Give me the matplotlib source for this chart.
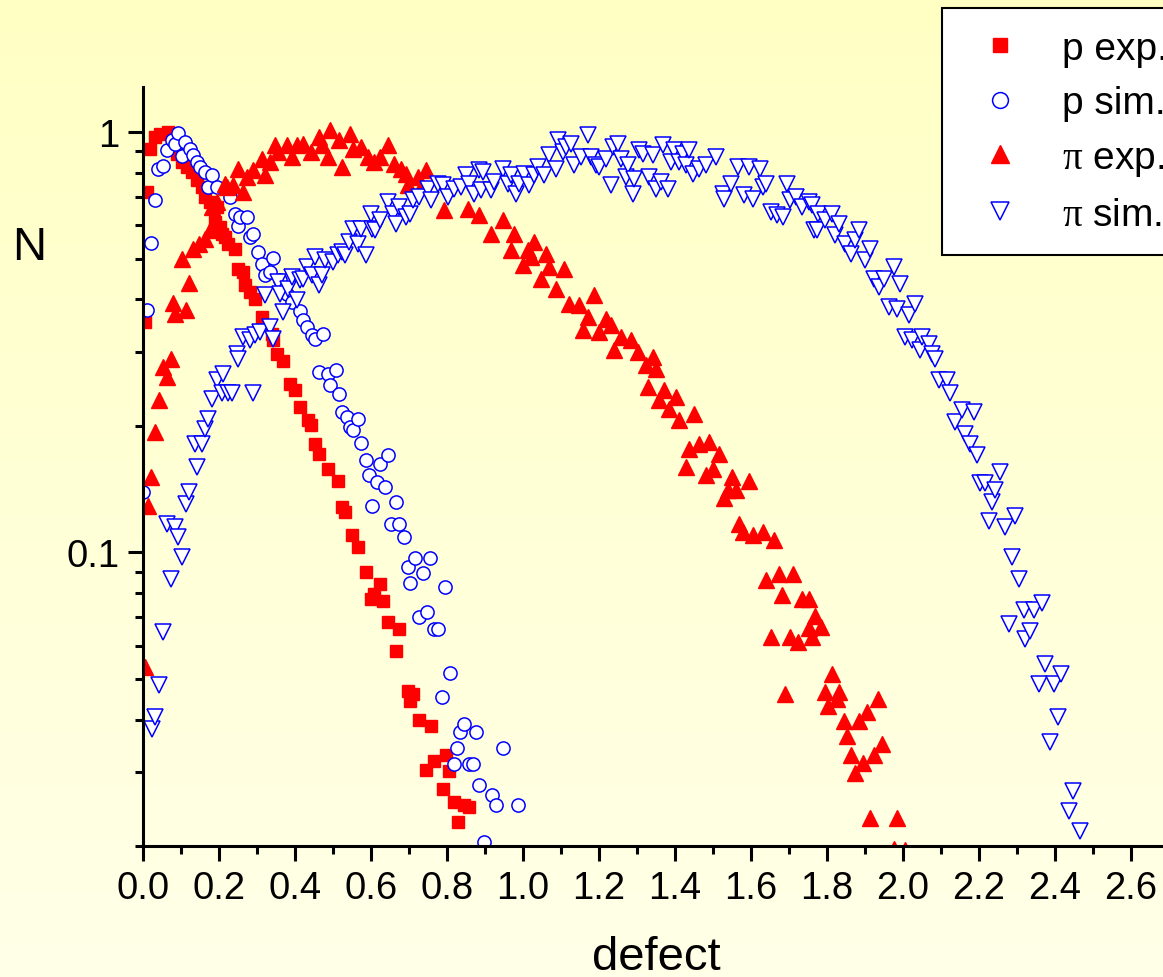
import numpy as np
import matplotlib
matplotlib.use("Agg")
import matplotlib.pyplot as plt
from matplotlib.colors import LinearSegmentedColormap
from matplotlib.ticker import MultipleLocator, LogLocator, NullFormatter, FormatStrFormatter

plt.rcParams['font.family'] = ['Liberation Sans', 'DejaVu Sans']
plt.rcParams['mathtext.fontset'] = 'custom'
plt.rcParams['mathtext.rm'] = 'Liberation Serif'
plt.rcParams['mathtext.it'] = 'Liberation Serif'

# p exp. (red squares)
p_exp_x = [0.005, 0.011, 0.018, 0.032, 0.045, 0.066, 0.090, 0.103, 0.116, 0.129,
           0.142, 0.156, 0.164, 0.177, 0.190, 0.195, 0.203, 0.208, 0.216, 0.224,
           0.243, 0.251, 0.264, 0.269, 0.282, 0.296, 0.314, 0.340, 0.343, 0.354,
           0.369, 0.388, 0.401, 0.414, 0.435, 0.441, 0.454, 0.462, 0.486, 0.512,
           0.525, 0.533, 0.551, 0.567, 0.586, 0.599, 0.607, 0.625, 0.633, 0.646,
           0.665, 0.673, 0.697, 0.704, 0.712, 0.726, 0.744, 0.757, 0.765, 0.789,
           0.797, 0.805, 0.818, 0.828, 0.844, 0.858]
p_exp_y = [0.353, 0.72, 0.911, 0.973, 0.989, 1.0, 0.887, 0.849, 0.826, 0.803,
           0.769, 0.740, 0.700, 0.681, 0.611, 0.663, 0.594, 0.572, 0.562, 0.541,
           0.526, 0.472, 0.464, 0.432, 0.416, 0.400, 0.363, 0.330, 0.320, 0.296,
           0.286, 0.251, 0.243, 0.222, 0.206, 0.201, 0.181, 0.171, 0.158, 0.148,
           0.128, 0.1245, 0.110, 0.103, 0.0896, 0.0773, 0.0794, 0.0839, 0.0764, 0.0681,
           0.0581, 0.0656, 0.0467, 0.0442, 0.0459, 0.040, 0.0304, 0.0385, 0.0318, 0.0273,
           0.0330, 0.0301, 0.0254, 0.0228, 0.0250, 0.0247]

# p sim. (blue open circles)
p_sim_x = [0.0, 0.011, 0.021, 0.032, 0.040, 0.053, 0.063, 0.077, 0.084, 0.092,
           0.103, 0.111, 0.124, 0.132, 0.142, 0.150, 0.164, 0.172, 0.182, 0.195,
           0.230, 0.243, 0.251, 0.256, 0.274, 0.282, 0.290, 0.303, 0.314, 0.322,
           0.335, 0.343, 0.361, 0.380, 0.393, 0.414, 0.422, 0.433, 0.446, 0.454,
           0.475, 0.462, 0.486, 0.493, 0.507, 0.515, 0.525, 0.538, 0.546, 0.554,
           0.565, 0.575, 0.586, 0.594, 0.604, 0.615, 0.625, 0.636, 0.646, 0.654,
           0.665, 0.675, 0.686, 0.697, 0.704, 0.715, 0.726, 0.736, 0.747, 0.755,
           0.765, 0.776, 0.786, 0.794, 0.807, 0.818, 0.826, 0.834, 0.844, 0.858,
           0.868, 0.876, 0.884, 0.897, 0.918, 0.929, 0.947, 0.987]
p_sim_y = [0.139, 0.377, 0.544, 0.689, 0.817, 0.830, 0.906, 0.957, 0.936, 0.995,
           0.877, 0.947, 0.911, 0.882, 0.849, 0.826, 0.803, 0.740, 0.790, 0.740,
           0.700, 0.638, 0.597, 0.628, 0.628, 0.562, 0.572, 0.518, 0.485, 0.457,
           0.464, 0.501, 0.444, 0.411, 0.394, 0.375, 0.357, 0.343, 0.329, 0.322,
           0.330, 0.268, 0.265, 0.250, 0.271, 0.238, 0.216, 0.210, 0.199, 0.195,
           0.208, 0.182, 0.166, 0.153, 0.129, 0.147, 0.162, 0.143, 0.170, 0.117,
           0.132, 0.117, 0.109, 0.0921, 0.0844, 0.0968, 0.070, 0.0891, 0.072, 0.0968,
           0.0656, 0.0656, 0.0452, 0.0826, 0.0515, 0.0313, 0.0343, 0.0373, 0.0391, 0.0313,
           0.0313, 0.0373, 0.0280, 0.0204, 0.0265, 0.0250, 0.0343, 0.0250]

# pi exp. (red filled triangles)
pi_exp_x = [0.005, 0.013, 0.021, 0.032, 0.042, 0.053, 0.063, 0.074, 0.079, 0.084,
            0.103, 0.113, 0.121, 0.132, 0.148, 0.164, 0.177, 0.182, 0.195, 0.216,
            0.222, 0.237, 0.251, 0.264, 0.274, 0.290, 0.314, 0.322, 0.335, 0.348,
            0.356, 0.380, 0.393, 0.406, 0.422, 0.441, 0.462, 0.472, 0.486, 0.493,
            0.515, 0.525, 0.546, 0.554, 0.573, 0.591, 0.607, 0.625, 0.646, 0.660,
            0.678, 0.691, 0.697, 0.723, 0.731, 0.744, 0.792, 0.855, 0.884, 0.916,
            0.947, 0.968, 0.976, 1.000, 1.013, 1.021, 1.029, 1.047, 1.061, 1.069,
            1.087, 1.108, 1.121, 1.148, 1.158, 1.172, 1.187, 1.201, 1.219, 1.232,
            1.240, 1.259, 1.285, 1.303, 1.325, 1.330, 1.343, 1.351, 1.359, 1.372,
            1.385, 1.404, 1.412, 1.430, 1.438, 1.451, 1.464, 1.483, 1.491, 1.501,
            1.517, 1.530, 1.541, 1.551, 1.562, 1.570, 1.580, 1.594, 1.607, 1.633,
            1.641, 1.652, 1.662, 1.673, 1.683, 1.691, 1.702, 1.712, 1.723, 1.734,
            1.752, 1.752, 1.760, 1.768, 1.784, 1.794, 1.802, 1.813, 1.826, 1.831,
            1.844, 1.852, 1.863, 1.873, 1.884, 1.894, 1.905, 1.913, 1.923, 1.934,
            1.945, 1.976, 1.984, 2.005]
pi_exp_y = [0.0532, 0.129, 0.151, 0.193, 0.230, 0.276, 0.261, 0.288, 0.392, 0.369,
            0.499, 0.377, 0.437, 0.526, 0.541, 0.556, 0.584, 0.663, 0.681, 0.752,
            0.740, 0.748, 0.817, 0.720, 0.782, 0.812, 0.863, 0.790, 0.849, 0.931,
            0.896, 0.931, 0.872, 0.931, 0.936, 0.896, 0.973, 0.931, 0.872, 1.01,
            0.957, 0.826, 0.989, 0.911, 0.921, 0.872, 0.849, 0.872, 0.931, 0.839,
            0.816, 0.794, 0.748, 0.782, 0.740, 0.812, 0.652, 0.656, 0.634, 0.572,
            0.617, 0.524, 0.572, 0.482, 0.524, 0.504, 0.547, 0.447, 0.512, 0.477,
            0.423, 0.472, 0.389, 0.387, 0.338, 0.363, 0.409, 0.334, 0.359, 0.347,
            0.303, 0.325, 0.320, 0.299, 0.279, 0.247, 0.291, 0.273, 0.230, 0.243,
            0.219, 0.234, 0.206, 0.160, 0.176, 0.213, 0.181, 0.153, 0.183, 0.158,
            0.171, 0.135, 0.141, 0.151, 0.141, 0.117, 0.112, 0.148, 0.110, 0.112,
            0.0858, 0.0628, 0.107, 0.0887, 0.079, 0.0461, 0.0628, 0.0887, 0.0611, 0.0773,
            0.0773, 0.0659, 0.0628, 0.0704, 0.0663, 0.0464, 0.043, 0.0513, 0.0447, 0.0464,
            0.0396, 0.0365, 0.033, 0.0298, 0.0396, 0.0315, 0.0416, 0.0233, 0.033, 0.0447,
            0.0349, 0.0197, 0.0233, 0.0196]

# pi sim. (blue open down-triangles)
pi_sim_x = [0.024, 0.032, 0.042, 0.053, 0.063, 0.074, 0.084, 0.092, 0.103, 0.113,
            0.121, 0.137, 0.142, 0.156, 0.164, 0.172, 0.182, 0.195, 0.208, 0.211,
            0.224, 0.235, 0.248, 0.251, 0.264, 0.282, 0.290, 0.296, 0.309, 0.322,
            0.335, 0.343, 0.356, 0.361, 0.369, 0.383, 0.393, 0.406, 0.414, 0.422,
            0.433, 0.446, 0.454, 0.462, 0.472, 0.480, 0.499, 0.512, 0.525, 0.533,
            0.541, 0.554, 0.567, 0.573, 0.586, 0.599, 0.604, 0.612, 0.625, 0.644,
            0.657, 0.665, 0.673, 0.691, 0.704, 0.712, 0.726, 0.749, 0.757, 0.776,
            0.789, 0.802, 0.818, 0.836, 0.850, 0.858, 0.871, 0.884, 0.889, 0.894,
            0.916, 0.923, 0.947, 0.960, 0.968, 0.982, 0.989, 1.003, 1.016, 1.029,
            1.040, 1.055, 1.069, 1.087, 1.092, 1.106, 1.113, 1.127, 1.135, 1.153,
            1.172, 1.179, 1.193, 1.201, 1.219, 1.232, 1.237, 1.251, 1.259, 1.272,
            1.277, 1.290, 1.293, 1.306, 1.317, 1.332, 1.343, 1.351, 1.364, 1.369,
            1.383, 1.391, 1.398, 1.412, 1.422, 1.430, 1.438, 1.449, 1.464, 1.483,
            1.509, 1.528, 1.530, 1.549, 1.567, 1.583, 1.594, 1.607, 1.623, 1.633,
            1.641, 1.654, 1.668, 1.686, 1.694, 1.702, 1.720, 1.734, 1.752, 1.760,
            1.765, 1.773, 1.778, 1.794, 1.813, 1.821, 1.831, 1.847, 1.865, 1.873,
            1.884, 1.900, 1.913, 1.923, 1.937, 1.950, 1.963, 1.976, 1.984, 1.992,
            2.005, 2.016, 2.024, 2.032, 2.045, 2.050, 2.069, 2.077, 2.084, 2.095,
            2.116, 2.124, 2.137, 2.156, 2.164, 2.177, 2.187, 2.195, 2.203, 2.216,
            2.227, 2.235, 2.243, 2.256, 2.269, 2.280, 2.288, 2.296, 2.306, 2.319,
            2.322, 2.335, 2.346, 2.359, 2.367, 2.375, 2.388, 2.398, 2.409, 2.417,
            2.438, 2.449, 2.467]
pi_sim_y = [0.0379, 0.0405, 0.0482, 0.0645, 0.117, 0.0862, 0.115, 0.109, 0.0974, 0.130,
            0.139, 0.181, 0.160, 0.181, 0.196, 0.207, 0.231, 0.257, 0.240, 0.265,
            0.240, 0.240, 0.296, 0.288, 0.325, 0.320, 0.240, 0.329, 0.334, 0.409,
            0.343, 0.322, 0.440, 0.411, 0.373, 0.423, 0.452, 0.398, 0.444, 0.447,
            0.477, 0.457, 0.504, 0.432, 0.457, 0.496, 0.490, 0.509, 0.518, 0.509,
            0.547, 0.587, 0.541, 0.587, 0.509, 0.638, 0.587, 0.584, 0.617, 0.681,
            0.638, 0.604, 0.663, 0.628, 0.638, 0.689, 0.700, 0.732, 0.689, 0.752,
            0.748, 0.700, 0.732, 0.740, 0.790, 0.752, 0.712, 0.812, 0.728, 0.803,
            0.728, 0.760, 0.816, 0.752, 0.790, 0.712, 0.752, 0.794, 0.748, 0.790,
            0.826, 0.790, 0.882, 0.816, 0.957, 0.896, 0.921, 0.936, 0.835, 0.872,
            0.984, 0.872, 0.835, 0.826, 0.863, 0.748, 0.921, 0.936, 0.863, 0.782,
            0.835, 0.712, 0.773, 0.906, 0.887, 0.782, 0.882, 0.732, 0.760, 0.931,
            0.732, 0.849, 0.906, 0.849, 0.887, 0.835, 0.906, 0.794, 0.816, 0.835,
            0.872, 0.712, 0.693, 0.752, 0.826, 0.708, 0.826, 0.693, 0.816, 0.740,
            0.752, 0.645, 0.634, 0.628, 0.752, 0.689, 0.700, 0.663, 0.681, 0.670,
            0.584, 0.584, 0.638, 0.617, 0.638, 0.569, 0.604, 0.541, 0.512, 0.553,
            0.584, 0.496, 0.526, 0.447, 0.428, 0.447, 0.383, 0.477, 0.379, 0.435,
            0.325, 0.367, 0.320, 0.389, 0.303, 0.325, 0.313, 0.296, 0.288, 0.257,
            0.257, 0.240, 0.204, 0.218, 0.191, 0.181, 0.216, 0.170, 0.146, 0.146,
            0.119, 0.132, 0.141, 0.155, 0.115, 0.0674, 0.0973, 0.122, 0.0862, 0.0727,
            0.0621, 0.0648, 0.0727, 0.0485, 0.0756, 0.0541, 0.0353, 0.0485, 0.0405, 0.0512,
            0.0242, 0.0270, 0.0217]

xticks = [0.0, 0.2, 0.4, 0.6, 0.8, 1.0, 1.2, 1.4, 1.6, 1.8, 2.0, 2.2, 2.4, 2.6]
yticks = [0.1, 1]
ytick_labels = ['0.1', '1']

W, H = 1163, 978
fig = plt.figure(figsize=(W / 100, H / 100), dpi=100)

# pale yellow background gradient
bg = fig.add_axes([0, 0, 1, 1], zorder=-1)
grad = np.linspace(0, 1, 256).reshape(-1, 1)
cmap = LinearSegmentedColormap.from_list('bg', ['#FFFFC4', '#FFFFE8'])
bg.imshow(grad, aspect='auto', cmap=cmap, extent=[0, 1, 0, 1], origin='upper')
bg.axis('off')

ax = fig.add_axes([143 / W, 1 - 847 / H, 1 - 143 / W, (847 - 88) / H])
ax.patch.set_visible(False)
ax.set_yscale('log')

ax.plot(p_exp_x, p_exp_y, ls='none', marker='s', ms=8, color='#FF0000', mec='#FF0000', label='p exp.')
ax.plot(p_sim_x, p_sim_y, ls='none', marker='o', ms=9.5, mfc='white', mec='#0000FF', mew=1.1, label='p sim.')
ax.plot(pi_exp_x, pi_exp_y, ls='none', marker='^', ms=11, color='#FF0000', mec='#FF0000', label=r'$\pi$ exp.')
ax.plot(pi_sim_x, pi_sim_y, ls='none', marker='v', ms=11, mfc='white', mec='#0000FF', mew=1.1, label=r'$\pi$ sim.')

ax.set_xlim(0, 2.685)
ax.set_ylim(0.02, 1.28)

ax.set_xticks(xticks)
ax.xaxis.set_major_formatter(FormatStrFormatter('%.1f'))
ax.xaxis.set_minor_locator(MultipleLocator(0.1))
ax.set_yticks(yticks, ytick_labels)
ax.yaxis.set_minor_locator(LogLocator(base=10, subs=np.arange(2, 10)))
ax.yaxis.set_minor_formatter(NullFormatter())

ax.tick_params(which='major', direction='out', length=11, width=2.2, labelsize=27.5, pad=6)
ax.tick_params(which='minor', direction='out', length=5.5, width=2.2)
for s in ['top', 'right']:
    ax.spines[s].set_visible(False)
for s in ['left', 'bottom']:
    ax.spines[s].set_linewidth(2.2)

fig.text(29 / W, 1 - 248 / H, 'N', fontsize=34, ha='center', va='center')
fig.text(656 / W, 1 - 958 / H, 'defect', fontsize=34, ha='center', va='center')

leg = fig.legend(loc='upper left', bbox_to_anchor=(942 / W, 1 - 9 / H), fontsize=28,
                 frameon=True, fancybox=False, edgecolor='black', framealpha=1,
                 borderpad=0.58, labelspacing=0.48, handlelength=1.8, handletextpad=0.7,
                 markerscale=1.2, borderaxespad=0)
leg.get_frame().set_linewidth(1.5)

plt.savefig('out.png', dpi=100)
